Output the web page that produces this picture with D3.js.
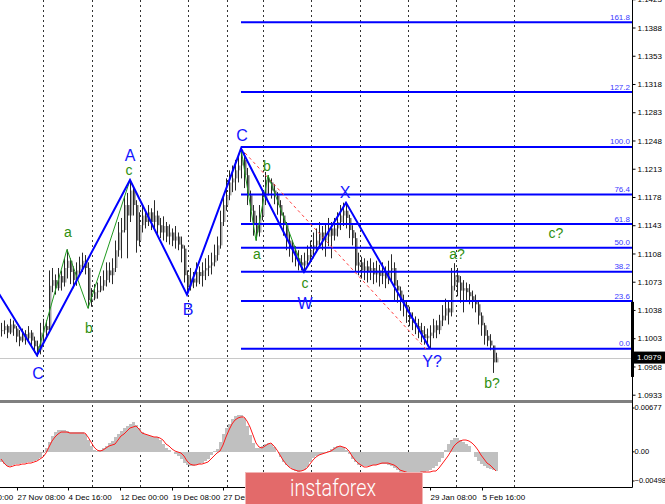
<!DOCTYPE html>
<html><head><meta charset="utf-8">
<script src="https://cdn.jsdelivr.net/npm/d3@7"></script>
<style>
html,body{margin:0;padding:0;background:#fff;overflow:hidden;}
svg{display:block;font-family:"Liberation Sans",Arial,sans-serif;}
</style></head><body>
<svg id="chart" width="665" height="504"></svg>
<script>
// ---------- DATA (EURUSD H4) ----------
const highs = [1.1022,1.1025,1.1020,1.1027,1.1025,1.1018,1.1013,1.1015,1.1013,1.1018,1.1013,1.1005,1.1000,1.1022,1.1027,1.1025,1.1087,1.1090,1.1082,1.1090,
1.1087,1.1102,1.1113,1.1102,1.1092,1.1097,1.1104,1.1109,1.1106,1.1097,1.1065,1.1070,1.1072,1.1080,1.1087,1.1097,1.1097,1.1102,1.1124,1.1147,
1.1152,1.1179,1.1183,1.1199,1.1191,1.1174,1.1159,1.1168,1.1161,1.1168,1.1164,1.1174,1.1161,1.1152,1.1154,1.1147,1.1144,1.1139,1.1142,1.1134,
1.1129,1.1118,1.1087,1.1090,1.1085,1.1097,1.1092,1.1097,1.1102,1.1106,1.1109,1.1119,1.1129,1.1161,1.1179,1.1201,1.1211,1.1217,1.1224,1.1230,
1.1238,1.1233,1.1214,1.1186,1.1168,1.1155,1.1168,1.1186,1.1209,1.1205,1.1201,1.1194,1.1184,1.1174,1.1159,1.1147,1.1134,1.1124,1.1117,1.1112,
1.1106,1.1109,1.1118,1.1124,1.1134,1.1139,1.1147,1.1142,1.1144,1.1152,1.1147,1.1152,1.1159,1.1168,1.1171,1.1169,1.1156,1.1143,1.1134,1.1109,
1.1104,1.1102,1.1099,1.1102,1.1097,1.1099,1.1094,1.1097,1.1092,1.1099,1.1107,1.1097,1.1075,1.1067,1.1057,1.1050,1.1042,1.1035,1.1030,1.1027,
1.1022,1.1018,1.1015,1.1019,1.1027,1.1025,1.1032,1.1044,1.1052,1.1050,1.1090,1.1096,1.1090,1.1080,1.1075,1.1072,1.1070,1.1062,1.1057,1.1050,
1.1035,1.1022,1.1013,1.1008,1.0994,1.0985];
const lows = [1.1005,1.1008,1.1003,1.1008,1.1006,1.0998,1.0993,1.0998,1.0995,1.1000,1.0993,1.0985,1.0980,1.0983,1.1000,1.1003,1.1013,1.1060,1.1057,1.1062,
1.1062,1.1067,1.1077,1.1070,1.1065,1.1068,1.1080,1.1085,1.1082,1.1040,1.1042,1.1050,1.1052,1.1060,1.1062,1.1067,1.1072,1.1070,1.1085,1.1104,
1.1102,1.1134,1.1102,1.1147,1.1155,1.1109,1.1117,1.1134,1.1139,1.1142,1.1137,1.1137,1.1132,1.1127,1.1124,1.1122,1.1119,1.1117,1.1114,1.1112,
1.1097,1.1072,1.1057,1.1062,1.1065,1.1067,1.1070,1.1067,1.1075,1.1080,1.1082,1.1092,1.1099,1.1114,1.1142,1.1161,1.1174,1.1184,1.1186,1.1196,
1.1201,1.1189,1.1168,1.1147,1.1130,1.1124,1.1129,1.1149,1.1168,1.1180,1.1176,1.1169,1.1156,1.1143,1.1130,1.1112,1.1104,1.1097,1.1092,1.1087,
1.1087,1.1085,1.1092,1.1097,1.1102,1.1109,1.1114,1.1112,1.1104,1.1117,1.1102,1.1124,1.1129,1.1137,1.1142,1.1139,1.1127,1.1118,1.1085,1.1081,
1.1077,1.1075,1.1072,1.1075,1.1070,1.1072,1.1067,1.1070,1.1065,1.1070,1.1072,1.1050,1.1047,1.1037,1.1030,1.1022,1.1018,1.1013,1.1008,1.1003,
1.0998,1.0995,1.0993,1.0990,1.1003,1.1003,1.1008,1.1018,1.1025,1.1020,1.1030,1.1062,1.1055,1.1047,1.1035,1.1050,1.1045,1.1040,1.1035,1.1020,
1.1006,1.0995,1.0993,1.0988,1.0960,1.0973];
const closes = [1.1013,1.1018,1.1010,1.1020,1.1015,1.1005,1.1000,1.1008,1.1003,1.1010,1.1000,1.0993,1.0988,1.1010,1.1018,1.1013,1.1068,1.1075,1.1065,1.1080,
1.1072,1.1090,1.1099,1.1085,1.1075,1.1087,1.1094,1.1099,1.1090,1.1050,1.1052,1.1060,1.1062,1.1068,1.1075,1.1087,1.1081,1.1090,1.1112,1.1134,
1.1137,1.1168,1.1155,1.1186,1.1168,1.1124,1.1143,1.1155,1.1147,1.1159,1.1147,1.1155,1.1143,1.1134,1.1142,1.1129,1.1134,1.1124,1.1129,1.1119,
1.1114,1.1081,1.1067,1.1077,1.1072,1.1085,1.1080,1.1087,1.1090,1.1093,1.1097,1.1106,1.1118,1.1147,1.1168,1.1180,1.1196,1.1201,1.1211,1.1217,
1.1224,1.1205,1.1180,1.1161,1.1143,1.1134,1.1155,1.1174,1.1199,1.1196,1.1186,1.1180,1.1168,1.1155,1.1143,1.1124,1.1118,1.1109,1.1102,1.1097,
1.1093,1.1099,1.1106,1.1112,1.1118,1.1124,1.1134,1.1124,1.1129,1.1139,1.1130,1.1139,1.1147,1.1155,1.1161,1.1152,1.1137,1.1127,1.1093,1.1097,
1.1087,1.1092,1.1085,1.1090,1.1082,1.1087,1.1080,1.1085,1.1077,1.1087,1.1090,1.1068,1.1062,1.1050,1.1044,1.1035,1.1027,1.1022,1.1018,1.1013,
1.1008,1.1003,1.1006,1.1010,1.1019,1.1013,1.1025,1.1031,1.1040,1.1035,1.1068,1.1081,1.1072,1.1062,1.1065,1.1060,1.1055,1.1050,1.1045,1.1031,
1.1019,1.1006,1.1000,1.0994,1.0973,1.0979];

// oscillator: histogram (grey) and signal line (red)
const histValues = [-0.00144,-0.00173,-0.00201,-0.00201,-0.00187,-0.00173,-0.00173,-0.00159,-0.00159,-0.00144,-0.00144,-0.00130,-0.00116,-0.00088,-0.00017,0.00054,0.00139,0.00224,0.00280,0.00309,
0.00309,0.00309,0.00295,0.00280,0.00280,0.00280,0.00280,0.00280,0.00252,0.00167,0.00082,0.00025,0.00011,0.00025,0.00054,0.00082,0.00125,0.00153,0.00210,0.00252,
0.00295,0.00337,0.00365,0.00394,0.00422,0.00379,0.00337,0.00280,0.00252,0.00238,0.00224,0.00210,0.00210,0.00167,0.00110,0.00054,0.00025,-0.00003,-0.00031,-0.00059,
-0.00102,-0.00159,-0.00187,-0.00201,-0.00201,-0.00187,-0.00173,-0.00159,-0.00130,-0.00102,-0.00045,0.00011,0.00040,0.00139,0.00252,0.00337,0.00394,0.00464,0.00507,0.00521,
0.00521,0.00479,0.00365,0.00238,0.00125,0.00054,0.00054,0.00082,0.00110,0.00125,0.00110,0.00068,-0.00003,-0.00074,-0.00144,-0.00187,-0.00215,-0.00244,-0.00272,-0.00286,
-0.00272,-0.00258,-0.00215,-0.00144,-0.00088,-0.00059,-0.00045,-0.00031,-0.00017,0.00011,0.00040,0.00068,0.00082,0.00082,0.00068,0.00025,-0.00031,-0.00102,-0.00144,-0.00187,
-0.00201,-0.00201,-0.00201,-0.00201,-0.00187,-0.00187,-0.00173,-0.00173,-0.00173,-0.00187,-0.00201,-0.00229,-0.00258,-0.00286,-0.00300,-0.00314,-0.00314,-0.00314,-0.00314,-0.00300,
-0.00300,-0.00286,-0.00272,-0.00258,-0.00229,-0.00201,-0.00144,-0.00088,0.00025,0.00110,0.00167,0.00195,0.00195,0.00167,0.00139,0.00110,0.00082,-0.00003,-0.00074,-0.00130,
-0.00173,-0.00201,-0.00229,-0.00244,-0.00258,-0.00272];
const signalValues = [-0.00102,-0.00159,-0.00201,-0.00215,-0.00201,-0.00187,-0.00187,-0.00173,-0.00173,-0.00159,-0.00159,-0.00144,-0.00130,-0.00102,-0.00074,-0.00017,0.00068,0.00153,0.00210,0.00252,
0.00280,0.00280,0.00280,0.00266,0.00266,0.00266,0.00266,0.00266,0.00266,0.00210,0.00139,0.00068,0.00025,0.00011,0.00025,0.00054,0.00082,0.00096,0.00110,0.00167,
0.00224,0.00252,0.00295,0.00337,0.00351,0.00365,0.00323,0.00266,0.00252,0.00238,0.00224,0.00210,0.00210,0.00195,0.00167,0.00110,0.00082,0.00040,0.00011,-0.00003,
-0.00017,-0.00059,-0.00130,-0.00173,-0.00187,-0.00187,-0.00173,-0.00173,-0.00159,-0.00144,-0.00102,-0.00059,-0.00017,0.00011,0.00096,0.00210,0.00309,0.00394,0.00450,0.00479,
0.00493,0.00493,0.00436,0.00351,0.00238,0.00125,0.00068,0.00054,0.00082,0.00110,0.00125,0.00082,0.00025,-0.00045,-0.00116,-0.00173,-0.00215,-0.00244,-0.00258,-0.00272,
-0.00272,-0.00258,-0.00229,-0.00173,-0.00116,-0.00074,-0.00045,-0.00031,-0.00017,-0.00003,0.00011,0.00040,0.00068,0.00082,0.00068,0.00054,0.00011,-0.00059,-0.00116,-0.00159,
-0.00187,-0.00215,-0.00215,-0.00201,-0.00187,-0.00187,-0.00173,-0.00159,-0.00159,-0.00159,-0.00173,-0.00187,-0.00215,-0.00258,-0.00272,-0.00286,-0.00300,-0.00300,-0.00300,-0.00300,
-0.00286,-0.00286,-0.00286,-0.00286,-0.00272,-0.00272,-0.00229,-0.00173,-0.00116,-0.00059,0.00011,0.00082,0.00125,0.00153,0.00167,0.00167,0.00153,0.00125,0.00082,0.00025,
-0.00045,-0.00102,-0.00159,-0.00187,-0.00229,-0.00272];

const priceTicks = [1.1423,1.1388,1.1353,1.1318,1.1283,1.1248,1.1213,1.1178,1.1143,1.1108,1.1073,1.1038,1.1003,1.0968,1.0933];
const oscTicks = [0.00677,0,-0.00498];
const lastPrice = 1.0979;

// time labels visible in the picture (the ones under the watermark are hidden there)
const timeLabels = ["20 Nov 00:00","27 Nov 08:00","4 Dec 16:00","12 Dec 00:00","19 Dec 08:00","27 Dec 16:00","29 Jan 08:00","5 Feb 16:00"];
const timeLabelBars = [-12,5.33,22.33,39.67,57,74,143,160.33];
const weekStartBars = [14,30.33,46.33,62.33,75.33,87.33,103.33,119.67,135.67,151.67,171];

// Elliott wave markup
const waveBars   = [-1,12,43,62,80,101,115,143];
const wavePrices = [1.1060,1.0982,1.1199,1.1057,1.1238,1.1085,1.1171,1.0990];
const subWave1Bars = [12,22,29,43];
const subWave1Prices = [1.0982,1.1113,1.1040,1.1199];
const subWave2Bars = [80,85,89,101];
const subWave2Prices = [1.1238,1.1124,1.1205,1.1085];
const trendBars = [80,142];
const trendPrices = [1.1238,1.0988];

const fibRatios = [0,0.236,0.382,0.5,0.618,0.764,1,1.272,1.618];
const fibLabels = ["0.0","23.6","38.2","50.0","61.8","76.4","100.0","127.2","161.8"];
const fibHigh = 1.1240, fibLow = 1.0990, fibStartBar = 80;

const waveLabels = ["C","A","B","C","W","X","Y?"];
const waveLabelBars = [12.33,43,62.33,80.33,101.33,114.67,143.67];
const waveLabelPrices = [1.0959,1.1230,1.1039,1.1255,1.1046,1.1184,1.0975];
const subLabels = ["a","b","c","a","b","c","a?","b?","c?"];
const subLabelBars = [22.33,29.33,42.67,85.33,88.67,101.33,152,163.67,185];
const subLabelPrices = [1.1135,1.1016,1.1211,1.1107,1.1217,1.1071,1.1107,1.0947,1.1134];

// ---------- LAYOUT ----------
const W = 665, H = 504;
const plotRight = 632;
const mainTop = 0, mainBottom = 400;
const oscTop = 404, oscBottom = 487;
const svg = d3.select("#chart");

const N = closes.length;
const x = d3.scaleLinear().domain([0, N - 1]).range([1, 1 + 3 * (N - 1)]);
const y = d3.scaleLinear().domain([1.0933, 1.1388]).range([394.7, 27.5]);
const yo = d3.scaleLinear().domain([-0.00498, 0.00677]).range([oscBottom, oscTop]);

const defs = svg.append("defs");
defs.append("clipPath").attr("id", "clipMain").append("rect")
  .attr("x", 0).attr("y", mainTop).attr("width", plotRight).attr("height", mainBottom - mainTop);
defs.append("clipPath").attr("id", "clipOsc").append("rect")
  .attr("x", 0).attr("y", oscTop).attr("width", plotRight).attr("height", oscBottom - oscTop);

// weekly separators (both panels)
svg.append("g").selectAll("line").data(weekStartBars).join("line")
  .attr("x1", d => Math.round(x(d)) + 0.5).attr("x2", d => Math.round(x(d)) + 0.5)
  .attr("y1", 0).attr("y2", oscBottom)
  .attr("stroke", "#333").attr("stroke-width", 1).attr("stroke-dasharray", "2,3");

const main = svg.append("g").attr("clip-path", "url(#clipMain)");

// current price line
main.append("line").attr("x1", 0).attr("x2", plotRight)
  .attr("y1", Math.round(y(lastPrice)) + 0.5).attr("y2", Math.round(y(lastPrice)) + 0.5)
  .attr("stroke", "#c8c8c8").attr("stroke-width", 1);

// candles
const bars = d3.range(N).map(i => ({
  i, h: highs[i], l: lows[i], c: closes[i], o: i ? closes[i - 1] : closes[0]
}));
const cg = main.append("g");
cg.selectAll("line").data(bars).join("line")
  .attr("x1", d => Math.round(x(d.i)) + 0.5).attr("x2", d => Math.round(x(d.i)) + 0.5)
  .attr("y1", d => y(d.h)).attr("y2", d => y(d.l))
  .attr("stroke", "#2a2a2a").attr("stroke-width", 1);
cg.selectAll("rect").data(bars).join("rect")
  .attr("x", d => Math.round(x(d.i)) + 1)
  .attr("width", 1.5)
  .attr("y", d => Math.min(y(d.o), y(d.c)))
  .attr("height", d => Math.max(1, Math.abs(y(d.o) - y(d.c))))
  .attr("fill", d => d.c >= d.o ? "#a8a8a8" : "#6a6a6a");

// fibonacci levels
const fibRange = fibHigh - fibLow;
const fib = main.append("g");
fibRatios.forEach((r, k) => {
  const py = y(fibLow + r * fibRange);
  fib.append("line").attr("x1", x(fibStartBar)).attr("x2", plotRight)
    .attr("y1", py).attr("y2", py).attr("stroke", "#0000ff").attr("stroke-width", 2);
  fib.append("text").attr("x", plotRight - 2).attr("y", py - 2.5)
    .attr("text-anchor", "end").attr("font-size", 8).attr("fill", "#3a3aff")
    .text(fibLabels[k]);
});

// red dashed trend line
const line = d3.line().x(d => x(d[0])).y(d => y(d[1]));
main.append("path").datum(trendBars.map((b, k) => [b, trendPrices[k]]))
  .attr("d", line).attr("fill", "none").attr("stroke", "#ff4040").attr("stroke-width", 1)
  .attr("stroke-dasharray", "3,3");

// green sub-waves
[[subWave1Bars, subWave1Prices], [subWave2Bars, subWave2Prices]].forEach(([b, p]) => {
  main.append("path").datum(b.map((v, k) => [v, p[k]]))
    .attr("d", line).attr("fill", "none").attr("stroke", "#1f9a1f").attr("stroke-width", 1);
});

// blue main wave
main.append("path").datum(waveBars.map((v, k) => [v, wavePrices[k]]))
  .attr("d", line).attr("fill", "none").attr("stroke", "#0000ff").attr("stroke-width", 2)
  .attr("stroke-linejoin", "miter");

// wave labels
main.append("g").selectAll("text").data(waveLabels).join("text")
  .attr("x", (d, k) => x(waveLabelBars[k])).attr("y", (d, k) => y(waveLabelPrices[k]))
  .attr("dy", "0.36em").attr("text-anchor", "middle")
  .attr("font-size", 16).attr("fill", "#1414ff").text(d => d);
main.append("g").selectAll("text").data(subLabels).join("text")
  .attr("x", (d, k) => x(subLabelBars[k])).attr("y", (d, k) => y(subLabelPrices[k]))
  .attr("dy", "0.36em").attr("text-anchor", "middle")
  .attr("font-size", 14).attr("fill", "#2f8f0f").text(d => d);

// ---------- oscillator ----------
const osc = svg.append("g").attr("clip-path", "url(#clipOsc)");
osc.selectAll("rect").data(histValues).join("rect")
  .attr("x", (d, i) => Math.round(x(i)) - 1).attr("width", 3)
  .attr("y", d => Math.min(yo(d), yo(0)))
  .attr("height", d => Math.abs(yo(d) - yo(0)))
  .attr("fill", "#c0c0c0").attr("shape-rendering", "crispEdges");
osc.append("path").datum(signalValues)
  .attr("d", d3.line().x((d, i) => x(i)).y(d => yo(d)))
  .attr("fill", "none").attr("stroke", "#ff1a1a").attr("stroke-width", 1);

// separator between panels
svg.append("rect").attr("x", 0).attr("y", 400).attr("width", plotRight).attr("height", 3).attr("fill", "#808080");

// ---------- axes ----------
const priceAxis = d3.axisRight(y).tickValues(priceTicks).tickFormat(d3.format(".4f")).tickSize(3).tickPadding(2);
const pa = svg.append("g").attr("transform", `translate(${plotRight + 0.5},0)`).call(priceAxis);
pa.select(".domain").remove();
pa.selectAll("text").attr("font-size", 8).attr("fill", "#000").attr("font-family", "Liberation Sans, Arial, sans-serif");
pa.selectAll("line").attr("stroke", "#000");

const oscAxis = d3.axisRight(yo).tickValues(oscTicks).tickFormat(d => d === 0 ? "0.00" : d3.format(".5f")(d)).tickSize(2).tickPadding(0);
const oa = svg.append("g").attr("transform", `translate(${plotRight + 0.5},0)`).call(oscAxis);
oa.select(".domain").remove();
oa.selectAll("text").attr("font-size", 7.5).attr("fill", "#000").attr("x", 2)
  .attr("font-family", "Liberation Sans, Arial, sans-serif");
oa.selectAll(".tick").attr("transform", d => {
  const py = d === oscTicks[0] ? oscTop + 4 : (d === oscTicks[2] ? oscBottom - 6 : yo(d));
  return `translate(0,${py})`;
});

// axis frame lines
svg.append("line").attr("x1", plotRight + 0.5).attr("x2", plotRight + 0.5).attr("y1", 0).attr("y2", oscBottom + 0.5)
  .attr("stroke", "#000");
svg.append("line").attr("x1", 0).attr("x2", plotRight + 0.5).attr("y1", oscBottom + 0.5).attr("y2", oscBottom + 0.5)
  .attr("stroke", "#000");

// scroll marker on price axis
svg.append("line").attr("x1", plotRight + 0.5).attr("x2", plotRight + 0.5)
  .attr("y1", y(1.1048)).attr("y2", y(1.0955)).attr("stroke", "#000").attr("stroke-width", 3);

// last price label
const lp = svg.append("g").attr("transform", `translate(${plotRight + 1},${y(lastPrice)})`);
lp.append("rect").attr("x", 0).attr("y", -6).attr("width", W - plotRight).attr("height", 12).attr("fill", "#000");
lp.append("text").attr("x", 4).attr("y", 0).attr("dy", "0.35em").attr("font-size", 8).attr("fill", "#fff").text(d3.format(".4f")(lastPrice));

// time axis
const timeAxis = d3.axisBottom(x).tickValues(timeLabelBars)
  .tickFormat((d, k) => timeLabels[k]).tickSize(3).tickPadding(4);
const ta = svg.append("g").attr("transform", `translate(0,${oscBottom + 0.5})`).call(timeAxis);
ta.select(".domain").remove();
ta.selectAll("text").attr("text-anchor", "start").attr("font-size", 8).attr("fill", "#000")
  .attr("font-family", "Liberation Sans, Arial, sans-serif");
ta.selectAll("line").attr("stroke", "#000");

// watermark logo
const logo = svg.append("g");
logo.append("rect").attr("x", 245.5).attr("y", 472.5).attr("width", 177).attr("height", 32)
  .attr("fill", "#e36a6a").attr("stroke", "#f2b5b5").attr("stroke-width", 1);
logo.append("text").attr("x", 333).attr("y", 496).attr("text-anchor", "middle")
  .attr("font-family", "Roboto, 'Open Sans', sans-serif").attr("font-weight", 300)
  .attr("font-size", 23).attr("fill", "#fff")
  .attr("textLength", 86).attr("lengthAdjust", "spacingAndGlyphs").text("instaforex");
</script>
</body></html>
